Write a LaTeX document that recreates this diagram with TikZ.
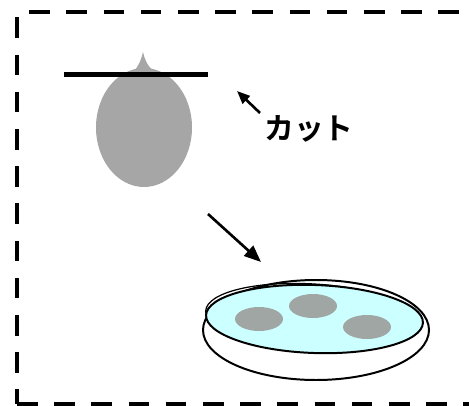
\documentclass[tikz,border=0pt]{standalone}
\usepackage{fontspec}
\newfontfamily\jpfont[BoldFont={* Bold}]{Noto Sans CJK JP}
\usetikzlibrary{arrows.meta}
\definecolor{seedgray}{RGB}{166,166,166}
\definecolor{blobgray}{RGB}{160,166,164}
\definecolor{broth}{RGB}{204,255,255}
\begin{document}
\begin{tikzpicture}[
    x=0.02cm, y=-0.02cm,
    frame/.style={
        line width=2.27pt, dash pattern=on 11.74pt off 9.43pt
    },
    pointer/.style={
        line width=1.5pt, -{Triangle[length=#1, width=0.8*#1]}
    },
    blob/.style={fill=blobgray, draw=none}
]
\useasboundingbox (0,0) rectangle (469,405);

% dashed frame
\coordinate (tl) at (17,12);
\coordinate (tr) at (471,12);
\coordinate (bl) at (17,404);
\coordinate (br) at (471,404);
\draw[frame, dash phase=14.2pt] (tl) -- (tr);
\draw[frame, dash phase=18.1pt] (tl) -- (bl);
\draw[frame] (bl) -- (br);
\draw[frame, dash phase=18.1pt] (tr) -- (br);

% seed with its tip, and the cut
\fill[seedgray] (133,72) .. controls (139,66) and (141,60) .. (143,52)
    .. controls (145,60) and (147,66) .. (155,72) -- cycle;
\fill[seedgray] (144,127.5) ellipse[x radius=48, y radius=59.5];
\draw[line width=2.8pt] (64,74.5) -- (208,74.5);

\coordinate (cuttail) at (260,113);
\coordinate (cuthead) at (237,91);
\draw[pointer=7.4pt] (cuttail) -- (cuthead);
\node[font=\jpfont\bfseries\fontsize{17}{20}\selectfont] (cut) at (309,129) {カット};

\coordinate (movetail) at (208,214);
\coordinate (movehead) at (261,262);
\draw[pointer=9.6pt] (movetail) -- (movehead);

% dish
\coordinate (dish) at (316,330);
\coordinate (rim) at (313,317.5);
\coordinate (surface) at (314.5,319);
\draw[line width=1.13pt, fill=white] (dish) ellipse[x radius=113, y radius=50];
\draw[line width=0.7pt, rotate around={-3.5:(rim)}]
    (rim) ellipse[x radius=107.5, y radius=33.5];
\draw[line width=1.13pt, fill=broth, rotate around={-2:(surface)}]
    (surface) ellipse[x radius=108.5, y radius=34];
\foreach \cx/\cy in {259/319, 313/306, 367/327} {
    \fill[blob] (\cx,\cy) ellipse[x radius=24, y radius=12];
}
\end{tikzpicture}
\end{document}
